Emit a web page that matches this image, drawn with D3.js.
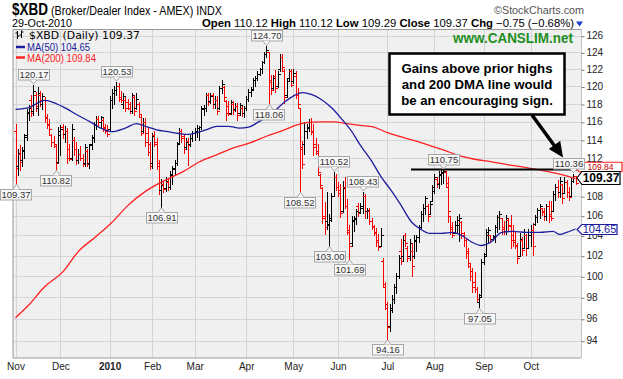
<!DOCTYPE html>
<html><head><meta charset="utf-8">
<script src="https://cdnjs.cloudflare.com/ajax/libs/d3/7.8.5/d3.min.js"></script>
<style>body{margin:0;background:#fff}svg{display:block}</style>
</head><body>
<svg id="c" width="623" height="379"></svg>
<script>
// ---------------- DATA ----------------
const opens = [
115.0,111.2,112.5,111.8,112.9,114.5,117.0,118.5,117.2,119.0,
117.5,119.0,118.0,118.5,116.5,115.8,114.5,113.8,113.3,111.6,
114.5,115.4,114.6,115.0,113.0,112.0,114.0,113.0,111.8,112.5,
112.0,111.5,112.8,111.5,113.5,114.2,115.8,116.3,116.0,116.2,
115.4,115.0,115.2,118.5,119.3,119.6,120.0,118.8,118.0,118.5,
118.2,118.0,117.2,118.8,117.5,118.0,116.5,115.0,116.0,114.8,
113.5,111.5,114.5,113.8,111.5,108.6,109.3,108.8,109.5,109.0,
110.2,111.0,111.5,113.7,115.0,114.4,113.2,113.9,113.5,114.2,
114.8,115.0,115.3,115.4,117.4,117.6,119.0,118.3,119.0,118.0,
118.5,117.5,119.8,119.9,118.3,117.8,117.0,118.0,117.4,117.8,
117.0,117.6,117.0,117.6,118.6,119.4,119.7,120.8,121.0,121.5,
122.0,122.9,123.8,124.0,120.5,119.8,121.2,120.0,122.0,123.4,
121.8,119.0,121.0,121.8,120.6,121.2,119.0,117.5,113.0,113.5,
115.0,115.3,116.0,115.0,113.5,112.6,110.2,108.8,106.0,105.5,
105.0,105.8,108.0,110.0,109.0,108.6,106.5,109.0,107.0,104.3,
103.2,105.5,105.8,107.0,106.4,106.8,108.0,106.5,106.5,105.5,
104.8,104.2,103.5,103.0,101.5,99.0,97.0,95.3,97.0,97.8,
99.0,100.0,102.5,102.0,104.0,102.8,102.0,102.5,102.0,103.5,
103.8,104.8,106.2,106.8,107.0,106.2,107.5,108.5,109.8,109.3,
110.2,110.4,110.5,109.0,106.0,104.8,104.2,105.0,105.0,105.4,
104.0,103.5,102.5,101.0,100.5,99.5,98.8,97.6,98.2,101.4,
102.2,104.0,104.0,103.6,103.8,104.8,105.9,105.8,104.8,104.4,
105.6,105.0,104.0,103.5,103.0,102.0,103.5,102.8,104.0,102.8,
104.0,104.5,105.2,105.9,106.6,106.8,106.5,106.0,107.0,106.2,
106.5,108.2,109.0,108.4,109.3,108.3,109.5,108.4,108.0,109.6,110.12];
const highs = [
115.7,113.0,113.4,113.2,114.6,117.4,117.9,119.0,120.17,119.4,
119.9,119.5,119.2,118.8,116.9,116.3,114.7,114.4,113.5,115.4,
115.6,115.8,115.5,115.3,113.5,115.8,114.3,113.8,113.0,113.3,
112.5,113.5,113.0,113.6,114.5,116.0,116.6,116.6,116.7,116.4,
115.8,115.6,118.9,119.7,120.0,120.53,120.4,119.5,119.2,118.8,
118.6,118.2,119.3,119.0,119.3,118.2,116.8,116.4,116.4,115.3,
113.8,114.8,115.0,114.2,111.8,109.8,109.6,110.0,109.8,110.6,
111.2,111.8,113.8,115.3,115.2,114.6,114.2,114.2,114.5,115.0,
115.3,115.6,115.5,117.8,117.9,119.3,119.2,119.2,119.2,118.9,
118.9,120.1,120.7,120.0,118.5,118.3,118.5,118.3,118.1,118.1,
118.1,117.8,117.8,118.9,119.7,119.9,121.0,121.2,121.8,122.2,
123.0,124.1,124.70,124.1,121.3,121.3,121.9,121.8,123.8,123.8,
122.0,120.9,122.0,122.0,122.0,121.8,119.8,117.6,113.9,116.0,
115.7,116.3,116.4,115.7,114.2,113.6,110.3,109.0,107.4,108.4,
106.2,108.3,110.52,110.3,109.5,109.3,109.6,110.0,107.7,105.0,
106.0,106.0,106.7,107.3,107.3,108.43,108.2,106.8,106.8,105.8,
105.1,104.7,104.1,104.7,101.8,99.5,97.6,97.4,98.2,99.3,
100.3,102.1,103.6,104.0,104.2,103.0,103.6,103.2,104.0,104.0,
105.0,106.5,107.2,108.0,107.2,107.5,109.2,110.3,110.0,110.6,
110.7,110.75,110.6,110.0,106.0,105.4,105.5,106.0,106.2,105.5,
104.3,103.7,102.8,101.2,100.8,100.4,99.0,98.3,101.7,102.3,
104.6,104.8,104.0,104.0,105.0,106.1,106.5,105.8,105.5,106.1,
105.8,106.1,105.1,104.3,103.2,104.2,103.8,104.6,104.1,104.6,
105.0,105.3,106.1,106.8,107.2,106.8,106.8,107.2,107.5,107.5,
108.5,109.3,109.7,110.0,109.3,110.0,109.7,109.0,110.0,110.36,110.12];
const lows = [
109.37,110.2,110.8,111.2,112.0,114.0,116.2,116.6,116.8,117.2,
116.8,117.8,117.4,116.0,115.3,114.7,113.3,113.2,110.82,111.5,
112.4,114.2,113.8,111.5,111.8,111.8,112.4,111.4,111.5,111.8,
111.2,111.2,111.2,111.0,113.0,113.8,115.2,115.6,115.4,115.0,
114.8,114.4,115.0,117.6,118.0,119.0,118.3,118.2,117.6,117.2,
117.4,117.0,117.0,116.8,117.4,116.6,114.5,114.9,113.3,112.4,
110.9,111.0,113.3,110.9,108.2,106.91,108.4,108.5,108.6,108.7,
109.3,110.2,111.3,113.5,113.8,112.6,113.0,111.3,113.3,113.9,
114.0,114.3,114.0,115.2,116.8,117.2,117.9,118.1,117.6,117.5,
116.9,117.4,119.2,118.4,116.2,116.8,116.9,116.9,117.2,116.2,
116.8,116.7,116.5,117.3,118.3,118.9,119.6,120.0,120.8,121.3,
121.6,122.7,123.5,118.06,119.1,119.7,119.4,119.9,121.8,121.8,
118.1,118.8,120.6,120.0,120.4,118.7,117.6,108.52,111.0,112.5,
114.2,115.0,114.6,112.4,112.5,110.3,108.8,105.3,104.1,104.6,
103.0,105.5,108.0,108.6,108.0,105.9,106.4,106.8,104.1,101.69,
103.0,104.4,105.2,106.0,106.3,106.3,105.8,105.8,105.2,104.6,
104.0,103.0,102.6,103.0,99.0,96.9,94.16,94.9,96.6,97.5,
98.4,99.8,101.2,101.5,103.0,101.5,101.6,100.0,101.8,102.5,
103.3,104.7,105.5,106.2,105.5,106.2,107.5,108.3,109.0,108.8,
109.3,109.4,109.0,105.4,104.1,103.8,104.2,104.2,103.4,103.7,
103.0,101.8,100.9,99.6,98.5,98.5,97.6,97.05,98.0,101.2,
102.0,103.3,103.3,103.5,103.3,104.3,104.6,104.1,104.1,104.1,
104.4,102.8,103.0,102.8,101.3,102.0,102.1,102.8,102.1,102.8,
103.0,102.1,105.1,105.4,105.8,106.1,105.6,105.6,105.4,105.6,
106.5,107.6,107.9,107.9,107.3,108.3,107.9,107.6,108.0,109.5,109.29];
const closes = [
111.0,112.6,111.6,112.8,114.3,117.1,117.6,117.0,119.5,117.8,
119.2,118.4,118.9,116.4,115.6,115.2,113.8,113.5,111.5,115.0,
115.2,114.6,115.0,112.0,111.9,115.2,113.0,111.8,112.5,112.0,
111.4,113.2,111.4,113.4,114.3,115.8,116.3,116.0,116.5,115.3,
115.0,114.6,118.4,119.3,119.6,120.1,118.6,118.5,118.9,117.6,
117.5,117.2,119.0,117.2,118.6,116.9,114.8,116.0,113.8,112.7,
111.2,114.4,113.6,111.2,108.6,109.2,108.7,109.6,109.0,110.3,
110.9,111.5,113.6,115.0,114.2,113.0,113.8,113.4,114.2,114.8,
115.0,115.3,115.4,117.5,117.6,119.0,118.2,118.9,118.0,118.5,
117.2,119.8,120.3,118.8,117.0,116.9,118.2,117.3,117.8,116.8,
117.9,117.0,117.6,118.6,119.4,119.6,120.8,121.0,121.5,122.0,
122.8,123.8,124.3,120.8,119.6,121.0,119.8,121.5,123.4,122.3,
118.8,120.6,121.8,120.2,121.6,119.0,118.0,113.2,111.4,115.0,
115.4,116.0,114.9,113.2,112.8,110.5,109.2,105.8,104.8,105.2,
105.6,108.0,110.0,109.0,108.3,106.3,108.9,107.0,104.5,103.0,
105.6,105.7,106.5,106.3,107.0,108.0,106.5,106.6,105.5,104.9,
104.3,103.3,102.9,104.0,99.3,97.4,95.2,96.8,97.8,99.0,
100.0,101.8,101.5,103.5,103.2,101.8,103.2,101.0,103.4,103.8,
104.8,106.2,106.8,107.8,106.0,107.2,109.0,110.0,109.4,110.3,
110.5,110.6,109.4,106.5,104.6,104.0,105.0,105.6,105.8,104.2,
103.5,102.3,101.3,100.0,99.0,98.8,97.8,98.0,101.4,102.0,
104.3,104.5,103.6,103.9,104.8,105.9,106.2,104.6,104.4,105.8,
104.9,103.5,103.3,103.1,101.8,103.6,102.6,104.3,102.8,104.0,
104.5,103.0,105.9,106.6,107.0,106.4,106.0,107.0,106.0,105.8,
108.2,109.0,108.4,109.6,107.8,109.5,108.4,107.9,109.6,110.12,109.37];

const ma50Idx = [0,6,13,21,28,34,38,43,49,54,58,63,68,73,77,81,85,90,95,100,104,108,112,116,120,124,128,132,136,141,146,150,154,159,163,168,172,177,181,185,190,195,200,204,208,212,217,222,228,234,240,243,246,250];
const ma50 = [117.4,117.6,118.4,117.7,116.7,115.9,115.3,114.9,115.3,115.8,115.5,115.1,114.9,114.7,114.6,114.8,115.1,115.5,115.5,115.3,115.4,115.9,116.5,117.3,118.2,118.9,119.3,119.1,118.6,117.6,116.2,114.95,113.4,111.7,110.1,108.5,107.1,105.3,104.6,104.2,104.2,104.3,103.9,103.3,103.0,103.3,104.3,104.4,104.3,104.3,104.4,104.1,104.3,104.65];
const ma200Idx = [0,6,13,21,28,36,43,50,58,63,68,75,82,90,97,105,112,120,125,130,136,142,148,154,160,166,174,181,186,191,198,205,213,220,228,235,243,250];
const ma200 = [96.1,97.3,99.0,100.4,102.4,103.9,105.3,107.0,108.5,109.2,109.8,110.6,111.6,112.4,113.1,113.7,114.4,115.1,115.6,115.9,116.0,116.0,115.8,115.6,115.4,114.8,114.2,113.7,113.3,112.9,112.3,111.9,111.6,111.3,111.0,110.7,110.3,109.84];

const monthLabels = ['Nov','Dec','2010','Feb','Mar','Apr','May','Jun','Jul','Aug','Sep','Oct'];
const monthStart = [0,20,42,61,80,103,124,144,166,187,209,230];
const yTicks = [94,96,98,100,102,104,106,108,110,112,114,116,118,120,122,124,126];
const yTicksHidden = [110];   // covered by the price tags in the reference

const calloutIdx = [0,8,18,45,65,112,113,127,142,140,149,155,166,191,207,249];
const calloutVal = [109.37,120.17,110.82,120.53,106.91,124.70,118.06,108.52,110.52,103.00,101.69,108.43,94.16,110.75,97.05,110.36];
const calloutSide = ['below','above','below','above','below','above','below','below','above','below','below','above','below','above','below','above'];

const resistanceLevel = 110.75;
const resistanceFrom = 177;
const noteLines = ['Gains above prior highs','and 200 DMA line would','be an encouraging sign.'];

// ---------------- DRAWING ----------------
const AR = "'Liberation Sans', Arial, sans-serif";
const VE = "'DejaVu Sans', Verdana, sans-serif";
const svg = d3.select('#c');
const L = 13, R = 581, T = 29.5, B = 358;
const x = d3.scaleLinear().domain([0, 250]).range([15.5, 575.5]);
const y = d3.scaleLog().domain([94, 126]).range([340.7, 35.7]);
const cx = i => Math.round(x(i)) + 0.5;
const cy = v => Math.round(y(v)) + 0.5;
const f2 = d3.format('.2f');

// header
svg.append('text').attr('x', 12).attr('y', 15).attr('font-family', AR).attr('font-weight', 'bold')
  .attr('font-size', 16).attr('textLength', 36).attr('lengthAdjust', 'spacingAndGlyphs').text('$XBD');
svg.append('text').attr('x', 51).attr('y', 15).attr('font-family', AR).attr('font-size', 12)
  .attr('textLength', 171).attr('lengthAdjust', 'spacingAndGlyphs').text('(Broker/Dealer Index - AMEX) INDX');
svg.append('text').attr('x', 494).attr('y', 14).attr('font-family', AR).attr('font-size', 11).attr('fill', '#555')
  .attr('textLength', 90).attr('lengthAdjust', 'spacingAndGlyphs').text('\u00A9StockCharts.com');
svg.append('text').attr('x', 12).attr('y', 26.5).attr('font-family', AR).attr('font-size', 11)
  .attr('textLength', 60).attr('lengthAdjust', 'spacingAndGlyphs').text('29-Oct-2010');
const hdr = svg.append('text').attr('x', 202).attr('y', 26.5).attr('font-family', AR).attr('font-size', 11.5)
  .attr('textLength', 372).attr('lengthAdjust', 'spacingAndGlyphs');
const chg = closes[250] - closes[249];
[['Open ', true], [f2(opens[250]) + ' ', false], ['High ', true], [f2(highs[250]) + ' ', false],
 ['Low ', true], [f2(lows[250]) + ' ', false], ['Close ', true], [f2(closes[250]) + ' ', false],
 ['Chg ', true], [f2(chg) + ' (' + f2(chg / closes[249] * 100) + '%)', false]]
  .forEach(([t, b]) => hdr.append('tspan').attr('font-weight', b ? 'bold' : 'normal').text(t));
svg.append('path').attr('d', 'M576,21.5 L583,21.5 L579.5,26.5 Z').attr('fill', '#1b3fd0');

// plot background + grid
svg.append('rect').attr('x', L).attr('y', T).attr('width', R - L).attr('height', B - T).attr('fill', '#f0f0f0');
const grid = svg.append('g').attr('stroke', '#d4d4d4').attr('stroke-width', 1);
yTicks.forEach(t => grid.append('line').attr('x1', L).attr('x2', R).attr('y1', cy(t)).attr('y2', cy(t)));
monthStart.forEach(m => grid.append('line').attr('x1', cx(m)).attr('x2', cx(m)).attr('y1', T).attr('y2', B));

svg.append('defs').append('clipPath').attr('id', 'pc').append('rect')
  .attr('x', L).attr('y', T).attr('width', R - L).attr('height', B - T);
const plot = svg.append('g').attr('clip-path', 'url(#pc)');

// OHLC bars
plot.selectAll('path.bar').data(d3.range(closes.length)).join('path')
  .attr('class', 'bar')
  .attr('fill', 'none').attr('stroke-width', 1)
  .attr('stroke', i => (closes[i] >= (i > 0 ? closes[i - 1] : opens[i])) ? '#000' : '#ff0000')
  .attr('d', i => {
    const X = cx(i);
    const yh = Math.round(y(highs[i])), yl = Math.round(y(lows[i])) + 1;
    return `M${X},${yh}V${yl}M${X - 2.5},${cy(opens[i])}H${X}M${X},${cy(closes[i])}H${X + 2.5}`;
  });

// moving averages
const ln = d3.line().x(d => x(d[0])).y(d => y(d[1])).curve(d3.curveMonotoneX);
plot.append('path').attr('d', ln(ma200Idx.map((d, k) => [d, ma200[k]])))
  .attr('fill', 'none').attr('stroke', '#ff2020').attr('stroke-width', 1.3);
plot.append('path').attr('d', ln(ma50Idx.map((d, k) => [d, ma50[k]])))
  .attr('fill', 'none').attr('stroke', '#1c1c9c').attr('stroke-width', 1.3);

// border
svg.append('path').attr('d', `M${R},${B}H${L}V${T}H${R}`).attr('fill', 'none').attr('stroke', '#9a9a9a');
svg.append('line').attr('x1', R + 0.5).attr('x2', R + 0.5).attr('y1', T).attr('y2', B)
  .attr('stroke', '#888').attr('stroke-dasharray', '1,1');

// right axis
const ya = svg.append('g').attr('transform', `translate(${R + 0.5},0)`)
  .call(d3.axisRight(y).tickValues(yTicks)
    .tickFormat(d => yTicksHidden.includes(d) ? '' : d3.format('d')(d)).tickSize(3).tickPadding(2));
ya.select('.domain').remove();
ya.selectAll('line').attr('stroke', '#777').attr('transform', 'translate(0,0.5)');
ya.selectAll('text').attr('font-family', AR).attr('font-size', 10).attr('fill', '#222');

// bottom axis
const xa = svg.append('g').attr('transform', `translate(0,${B})`)
  .call(d3.axisBottom(x).tickValues(monthStart).tickFormat((d, k) => monthLabels[k]).tickSize(0).tickPadding(5));
xa.select('.domain').remove();
xa.selectAll('text').attr('font-family', AR).attr('font-size', 10).attr('fill', '#222')
  .attr('font-weight', (d, k) => monthLabels[k] === '2010' ? 'bold' : 'normal');

// legend
const lg = svg.append('g');
lg.append('path').attr('d', 'M17.5,31V39M15.5,33H17.5M17.5,36H19.5M21.5,30.5V38M19.5,35H21.5M21.5,32H23.5')
  .attr('stroke', '#000').attr('fill', 'none');
lg.append('text').attr('x', 29).attr('y', 38.5).attr('font-family', VE).attr('font-size', 10.5)
  .attr('textLength', 111).attr('lengthAdjust', 'spacingAndGlyphs').text('$XBD (Daily) ' + f2(closes[250]));
lg.append('line').attr('x1', 16).attr('x2', 25).attr('y1', 47).attr('y2', 47).attr('stroke', '#1c1c9c').attr('stroke-width', 2.5);
lg.append('text').attr('x', 27).attr('y', 50.5).attr('font-family', AR).attr('font-size', 10).attr('fill', '#1c1c9c')
  .attr('textLength', 63).attr('lengthAdjust', 'spacingAndGlyphs').text('MA(50) ' + f2(ma50[ma50.length - 1]));
lg.append('line').attr('x1', 16).attr('x2', 25).attr('y1', 57.5).attr('y2', 57.5).attr('stroke', '#ff2020').attr('stroke-width', 2.5);
lg.append('text').attr('x', 27).attr('y', 61.5).attr('font-family', AR).attr('font-size', 10).attr('fill', '#ff2020')
  .attr('textLength', 69).attr('lengthAdjust', 'spacingAndGlyphs').text('MA(200) ' + f2(ma200[ma200.length - 1]));

svg.append('text').attr('x', 453).attr('y', 42.5).attr('font-family', AR).attr('font-weight', 'bold').attr('font-size', 14)
  .attr('fill', '#1f8f1f').attr('textLength', 120).attr('lengthAdjust', 'spacingAndGlyphs').text('www.CANSLIM.net');

// resistance line
svg.append('line').attr('x1', x(resistanceFrom) - 1).attr('x2', R).attr('y1', y(resistanceLevel) - 0.5).attr('y2', y(resistanceLevel) - 0.5)
  .attr('stroke', '#000').attr('stroke-width', 2.2);

// right-edge price tags (last close on top)
function tag(yc, h, txt, stroke, fill, size, bold, x0, x1) {
  const g = svg.append('g');
  g.append('path').attr('d', `M${x0},${yc}L${x0 + 5},${yc - h / 2}H${x1}V${yc + h / 2}H${x0 + 5}Z`)
    .attr('fill', '#fff').attr('stroke', stroke).attr('stroke-width', 1.2);
  g.append('text').attr('x', x0 + 5 + (x1 - x0 - 5) / 2).attr('y', yc + size * 0.36).attr('text-anchor', 'middle')
    .attr('font-family', AR).attr('font-size', size).attr('font-weight', bold ? 'bold' : 'normal').attr('fill', fill).text(txt);
}
tag(Math.round(y(ma50[ma50.length - 1])) + 0.5, 10, f2(ma50[ma50.length - 1]), '#1c1c9c', '#1c1c9c', 11, false, 577, 617);
tag(Math.round(y(ma200[ma200.length - 1])) - 12, 9.5, f2(ma200[ma200.length - 1]), '#ff2020', '#cc0000', 8.5, false, 574, 622);
tag(Math.round(y(closes[250])) - 5, 13, f2(closes[250]), '#000', '#000', 12, true, 577, 620);

// callouts
const cg = svg.append('g');
calloutIdx.forEach((i, k) => {
  const v = calloutVal[k], side = calloutSide[k];
  const px = x(i), py = y(v);
  const w = 31, h = 10.5;
  let bx = Math.round(px - w / 2);
  bx = Math.max(0, Math.min(584 - w, bx));
  const by = side === 'above' ? Math.round(py - 5.5 - h) : Math.round(py + 5.5);
  cg.append('rect').attr('x', bx + 0.5).attr('y', by + 0.5).attr('width', w).attr('height', h)
    .attr('fill', '#f7f7f7').attr('stroke', '#a6a6a6');
  const edge = side === 'above' ? by + h + 0.5 : by + 0.5;
  const tip = side === 'above' ? py - 1 : py + 1;
  const X = Math.round(px) + 0.5;
  cg.append('path').attr('d', `M${X - 3.5},${edge}L${X},${tip}L${X + 3.5},${edge}Z`).attr('fill', '#f7f7f7');
  cg.append('path').attr('d', `M${X - 3.5},${edge}L${X},${tip}L${X + 3.5},${edge}`).attr('fill', 'none').attr('stroke', '#a6a6a6');
  cg.append('text').attr('x', bx + 0.5 + w / 2).attr('y', by + h - 1.5).attr('text-anchor', 'middle')
    .attr('font-family', AR).attr('font-size', 9.5).attr('fill', '#333').text(f2(v));
});

// annotation box + arrow
const ag = svg.append('g');
ag.append('rect').attr('x', 389.5).attr('y', 53.5).attr('width', 175).attr('height', 61)
  .attr('fill', '#fff').attr('stroke', '#000').attr('stroke-width', 2.5);
noteLines.forEach((t, k) => ag.append('text').attr('x', 477).attr('y', 72.5 + k * 16).attr('text-anchor', 'middle')
  .attr('font-family', AR).attr('font-weight', 'bold').attr('font-size', 13.2).attr('fill', '#000').text(t));
ag.append('line').attr('x1', 532).attr('y1', 115).attr('x2', 555).attr('y2', 146.5).attr('stroke', '#000').attr('stroke-width', 3.5);
ag.append('path').attr('d', 'M563,157.5 L548.8,149 L560.2,140.8 Z').attr('fill', '#000');
</script>
</body></html>
